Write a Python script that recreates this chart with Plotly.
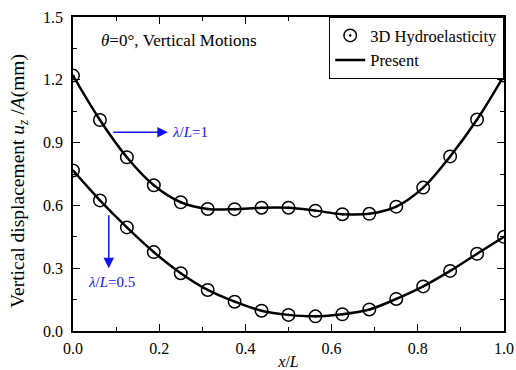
import plotly.graph_objects as go

x_pos = [i / 16 for i in range(17)]
upper_vals = [1.22, 1.008, 0.83, 0.696, 0.615, 0.583, 0.582, 0.589, 0.589, 0.575,
              0.558, 0.56, 0.594, 0.685, 0.834, 1.01, 1.22]
lower_vals = [0.767, 0.624, 0.495, 0.377, 0.276, 0.196, 0.14, 0.097, 0.077, 0.07,
              0.08, 0.103, 0.153, 0.213, 0.287, 0.369, 0.45]

x_ticks = [0.0, 0.2, 0.4, 0.6, 0.8, 1.0]
y_ticks = [0.0, 0.3, 0.6, 0.9, 1.2, 1.5]

FONT = "Liberation Serif, Times New Roman, serif"
BLUE = "#1010f0"

fig = go.Figure()

for k, vals in enumerate([upper_vals, lower_vals]):
    fig.add_trace(go.Scatter(
        x=x_pos, y=vals, mode="lines", line=dict(color="black", width=2.5, shape="spline", smoothing=1),
        name="Present", showlegend=(k == 0), legendrank=2))
    fig.add_trace(go.Scatter(
        x=x_pos, y=vals, mode="markers",
        marker=dict(symbol="circle-open-dot", size=12.5, color="black", line=dict(width=1.5, color="black")),
        name="3D Hydroelasticity", showlegend=(k == 0), legendrank=1))

fig.update_layout(
    width=516, height=370,
    margin=dict(l=73, r=12, t=17, b=39, autoexpand=False),
    paper_bgcolor="white", plot_bgcolor="white",
    font=dict(family=FONT, size=16, color="black"),
    legend=dict(x=1, xanchor="right", y=1, yanchor="top", bordercolor="black", borderwidth=1.2,
                bgcolor="white", font=dict(size=16.5), tracegroupgap=0, traceorder="normal"),
    xaxis=dict(range=[0, 1], tickvals=x_ticks, ticktext=[f"{v:.1f}" for v in x_ticks],
               ticks="inside", ticklen=7, tickwidth=1.3, tickcolor="black", ticklabelstandoff=2,
               minor=dict(dtick=0.1, ticks="inside", ticklen=4, tickwidth=1.3, tickcolor="black"),
               showline=True, linecolor="black", linewidth=1.5, mirror="ticks", showgrid=False,
               zeroline=False, automargin=False,
               title=dict(text="<i>x</i>/<i>L</i>", standoff=6, font=dict(size=16))),
    yaxis=dict(range=[0, 1.5], tickvals=y_ticks, ticktext=[f"{v:.1f}" for v in y_ticks],
               ticks="inside", ticklen=7, tickwidth=1.3, tickcolor="black", ticklabelstandoff=5,
               minor=dict(dtick=0.15, ticks="inside", ticklen=4, tickwidth=1.3, tickcolor="black"),
               showline=True, linecolor="black", linewidth=1.5, mirror="ticks", showgrid=False,
               zeroline=False, automargin=False),
)

# y-axis title
fig.add_annotation(x=0, y=0.478, xref="paper", yref="paper", xshift=-54, textangle=-90,
                   text="Vertical displacement <i>u<sub>z</sub></i> /<i>A</i>(mm)",
                   showarrow=False, xanchor="center", yanchor="middle", font=dict(size=19.5, color="black"))

fig.add_annotation(x=0.06, y=1.39, xref="x", yref="y", text="<i>θ</i>=0°, Vertical Motions",
                   showarrow=False, xanchor="left", font=dict(size=17, color="black"))

# arrow λ/L=1
fig.add_annotation(x=0.22, y=0.95, ax=0.09, ay=0.95, xref="x", yref="y", axref="x", ayref="y",
                   text="", showarrow=True, arrowhead=2, arrowsize=1.4, arrowwidth=1.5, arrowcolor=BLUE)
fig.add_annotation(x=0.225, y=0.95, xref="x", yref="y", text="<i>λ</i>/<i>L</i>=1",
                   showarrow=False, xanchor="left", font=dict(size=15, color=BLUE))
# arrow λ/L=0.5
fig.add_annotation(x=0.083, y=0.30, ax=0.083, ay=0.56, xref="x", yref="y", axref="x", ayref="y",
                   text="", showarrow=True, arrowhead=2, arrowsize=1.4, arrowwidth=1.5, arrowcolor=BLUE)
fig.add_annotation(x=0.03, y=0.235, xref="x", yref="y", text="<i>λ</i>/<i>L</i>=0.5",
                   showarrow=False, xanchor="left", font=dict(size=15, color=BLUE))

fig.write_html("out.html")
